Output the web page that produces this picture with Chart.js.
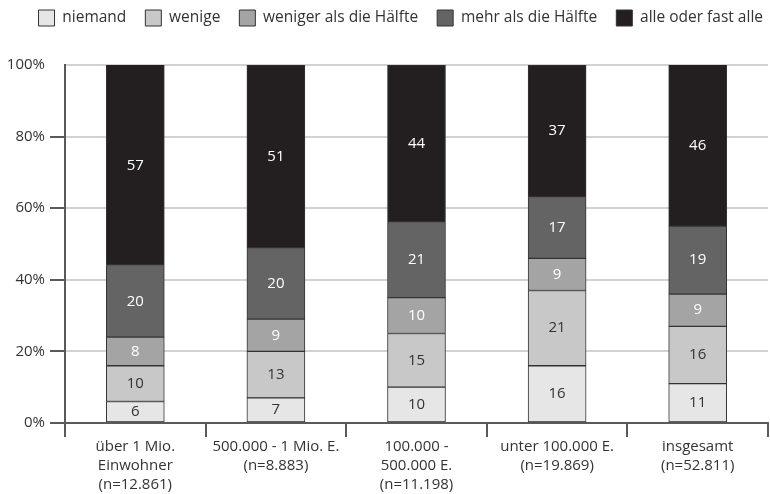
<!DOCTYPE html>
<html>
<head>
<meta charset="utf-8">
<script src="https://cdn.jsdelivr.net/npm/chart.js@4/dist/chart.umd.min.js"></script>
<style>
  html, body { margin: 0; padding: 0; background: #ffffff; }
  #wrap { width: 770px; height: 494px; }
</style>
</head>
<body>
<div id="wrap"><canvas id="c" width="770" height="494"></canvas></div>
<script>
const categories = [
  ["über 1 Mio.", "Einwohner", "(n=12.861)"],
  ["500.000 - 1 Mio. E.", "(n=8.883)"],
  ["100.000 -", "500.000 E.", "(n=11.198)"],
  ["unter 100.000 E.", "(n=19.869)"],
  ["insgesamt", "(n=52.811)"]
];
const seriesNames = ["niemand", "wenige", "weniger als die Hälfte", "mehr als die Hälfte", "alle oder fast alle"];
const niemand = [6, 7, 10, 16, 11];
const wenige = [10, 13, 15, 21, 16];
const wenigerAlsHaelfte = [8, 9, 10, 9, 9];
const mehrAlsHaelfte = [20, 20, 21, 17, 19];
const alleOderFastAlle = [57, 51, 44, 37, 46];
const yTicks = [0, 20, 40, 60, 80, 100];

const fills = ["#e6e6e7", "#c8c8c9", "#a4a4a5", "#646464", "#231f20"];
const labelColors = ["#333333", "#333333", "#ffffff", "#ffffff", "#ffffff"];
const seriesValues = [niemand, wenige, wenigerAlsHaelfte, mehrAlsHaelfte, alleOderFastAlle];
const FONT = "'Open Sans', sans-serif";
const AXIS = "#5a5a5a";
const LEGEND_PAD = 19;

const datasets = seriesValues.map((vals, i) => ({
  label: seriesNames[i],
  data: vals,
  backgroundColor: fills[i],
  borderColor: "#333333",
  borderWidth: 1,
  borderSkipped: false,
  barThickness: 58,
  clip: 0
}));

const valueLabels = {
  id: 'valueLabels',
  afterDatasetsDraw(chart) {
    const ctx = chart.ctx;
    const area = chart.chartArea;
    ctx.save();
    ctx.font = "15px " + FONT;
    ctx.textAlign = 'center';
    ctx.textBaseline = 'middle';
    chart.data.datasets.forEach((ds, di) => {
      const meta = chart.getDatasetMeta(di);
      meta.data.forEach((el, i) => {
        const top = Math.max(el.y, area.top);
        const y = (top + el.base) / 2;
        ctx.fillStyle = labelColors[di];
        ctx.fillText(String(ds.data[i]), el.x, y);
      });
    });
    ctx.restore();
  }
};

const legendPlace = {
  id: 'legendPlace',
  beforeInit(chart) {
    const origFit = chart.legend.fit;
    chart.legend.fit = function () {
      origFit.bind(chart.legend)();
      this.height += 20;
    };
  },
  afterLayout(chart) {
    const lg = chart.legend;
    lg.right = 763 + LEGEND_PAD;
    lg.top -= 9;
    lg.bottom -= 9;
  }
};

new Chart(document.getElementById('c'), {
  type: 'bar',
  data: { labels: categories, datasets: datasets },
  options: {
    responsive: false,
    animation: false,
    layout: { padding: { left: 0, right: 2, top: 0, bottom: 0 } },
    plugins: {
      legend: {
        position: 'top',
        align: 'end',
        labels: {
          boxWidth: 16,
          boxHeight: 16,
          padding: LEGEND_PAD,
          color: "#333333",
          font: { family: FONT, size: 15.5 }
        }
      },
      tooltip: { enabled: false }
    },
    scales: {
      x: {
        stacked: true,
        offset: true,
        grid: {
          offset: true,
          drawOnChartArea: false,
          drawTicks: true,
          tickLength: 14,
          color: AXIS,
          lineWidth: 2
        },
        border: { display: true, color: AXIS, width: 2 },
        ticks: {
          color: "#333333",
          padding: 0,
          maxRotation: 0,
          autoSkip: false,
          font: { family: FONT, size: 15, lineHeight: 1.27 }
        },
        afterFit(scale) { scale.height = 71; }
      },
      y: {
        stacked: true,
        min: 0,
        max: 100,
        afterBuildTicks(scale) { scale.ticks = yTicks.map(v => ({ value: v })); },
        grid: {
          color: "#d2d2d2",
          lineWidth: 2,
          tickLength: 15,
          tickColor: (c) => (c.tick && c.tick.value === 100) ? 'rgba(0,0,0,0)' : AXIS,
          tickWidth: 2
        },
        border: { display: true, color: AXIS, width: 2 },
        ticks: {
          color: "#333333",
          padding: 5,
          font: { family: FONT, size: 15 },
          callback: (v) => v + "%"
        },
        afterFit(scale) { scale.width = 65; }
      }
    }
  },
  plugins: [valueLabels, legendPlace]
});
</script>
</body>
</html>
